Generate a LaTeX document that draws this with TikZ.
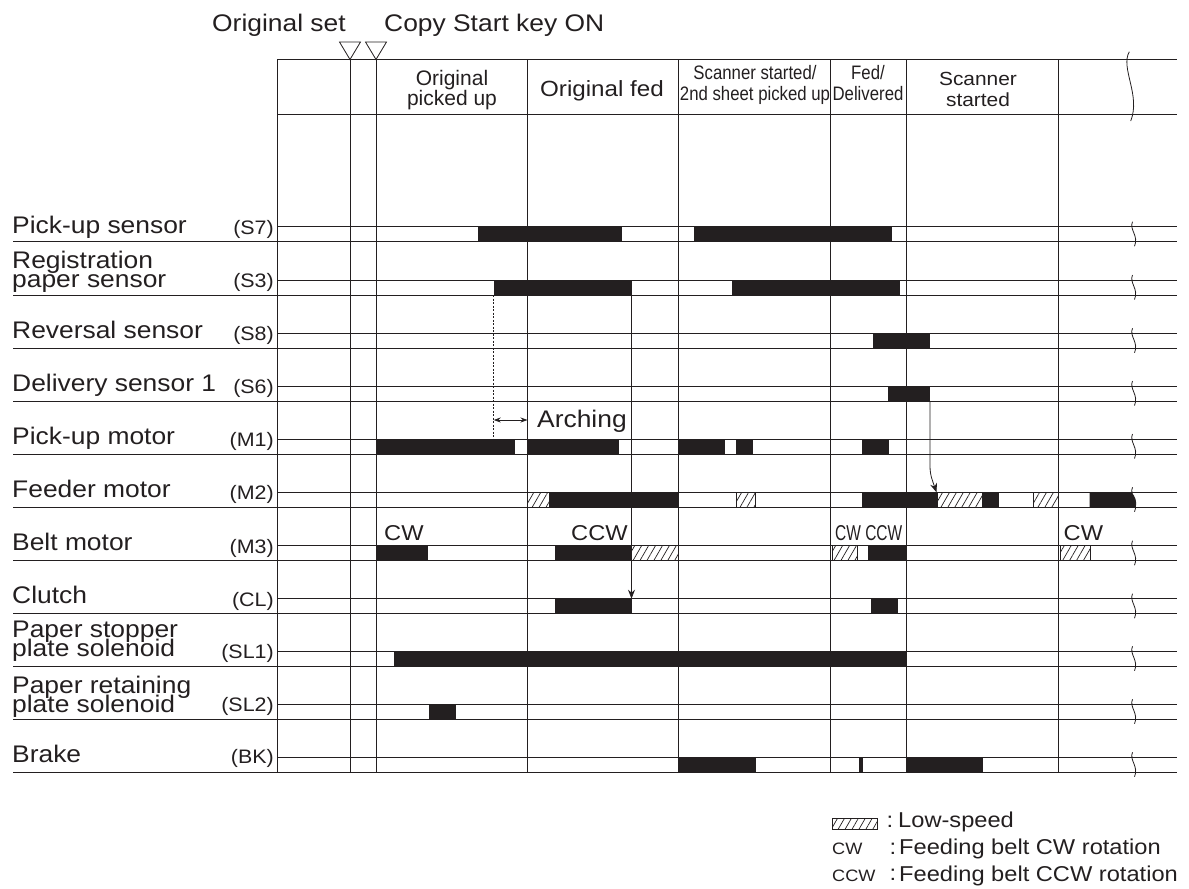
\documentclass[tikz,border=0pt]{standalone}
\usepackage{fontspec}
\setmainfont{Liberation Sans}
\newfontfamily\hv[FakeStretch=1.1]{Liberation Sans}
\newfontfamily\hvn{Liberation Sans}
\newfontfamily\hvc[FakeStretch=0.86]{Liberation Sans}
\newfontfamily\hvcc[FakeStretch=0.72]{Liberation Sans}
\usetikzlibrary{arrows.meta,patterns.meta}
\definecolor{ink}{HTML}{231F20}
\tikzset{
  lab/.style={anchor=base west,inner sep=0pt,text=ink,font={\hv\fontsize{24}{24}\selectfont}},
  code/.style={anchor=base east,inner sep=0pt,text=ink,font={\hv\fontsize{19.5}{19.5}\selectfont}},
  hdr/.style={anchor=base,inner sep=0pt,text=ink},
  beltlab/.style={anchor=base west,inner sep=0pt,text=ink,font={\hv\fontsize{21.5}{21.5}\selectfont}},
  leg/.style={anchor=base west,inner sep=0pt,text=ink,font={\hv\fontsize{21.5}{21.5}\selectfont}},
  legs/.style={anchor=base west,inner sep=0pt,text=ink,font={\hv\fontsize{16.5}{16.5}\selectfont}},
  bar/.style={fill=ink},
  slow/.style={draw=ink,line width=0.6pt,pattern={Lines[angle=60,distance=6pt,line width=0.7pt]},pattern color=ink},
  gridline/.style={draw=ink,line width=1pt},
  squig/.style={draw=ink,line width=0.8pt},
  sigarrow/.style={draw=ink,line width=0.8pt,-{Stealth[length=9pt,width=7pt]}},
}
\begin{document}
\begin{tikzpicture}[x=1pt,y=-1pt]
\useasboundingbox (0,0) rectangle (1189,889);

% ---------- bars ----------
% S7
\foreach \a/\b in {478/622,694/891.5} \fill[bar] (\a,226.7) rectangle (\b,241.7);
% S3
\foreach \a/\b in {494/631.5,732/899.5} \fill[bar] (\a,280) rectangle (\b,295);
% S8
\fill[bar] (872.5,333.3) rectangle (930,348.3);
% S6
\fill[bar] (887.5,386) rectangle (930,401);
% M1
\foreach \a/\b in {376/514.5,527.5/619,678.5/725,736/752.5,861.5/888.5} \fill[bar] (\a,439) rectangle (\b,454);
% M2
\foreach \a/\b in {549.5/678.5,861.5/937.5,982/998.5} \fill[bar] (\a,492.3) rectangle (\b,507.3);
\foreach \a/\b in {527.5/549.5,736/755.5,937.5/982,1033.5/1058} \path[slow] (\a,492.3) rectangle (\b,507.3);
\fill[bar] (1089.5,492.3) -- (1131.5,492.3) .. controls (1135,496) and (1137.5,502) .. (1135.5,507.3) -- (1089.5,507.3) -- cycle;
% M3
\foreach \a/\b in {376/428,555/631.5,868/906} \fill[bar] (\a,545.7) rectangle (\b,560.7);
\foreach \a/\b in {631.5/678,832/857.5,1060/1090.5} \path[slow] (\a,545.7) rectangle (\b,560.7);
% CL
\foreach \a/\b in {555/631.5,871/898} \fill[bar] (\a,598.7) rectangle (\b,613.7);
% SL1
\fill[bar] (394,651.3) rectangle (906.5,666.3);
% SL2
\fill[bar] (428.5,704.3) rectangle (456,719.3);
% BK
\foreach \a/\b in {678.5/755.5,858.5/863,906/983} \fill[bar] (\a,757.3) rectangle (\b,772.3);

% ---------- grid ----------
\draw[gridline] (277,59.5) -- (1177,59.5);
\draw[gridline] (277,114.5) -- (1177,114.5);
\foreach \y in {226.7,280,333.3,386,439,492.3,545.7,598.7,651.3,704.3,757.3} {
  \draw[gridline] (277,\y) -- (1177,\y);
  \draw[gridline] (13,{\y+15}) -- (1177,{\y+15});
  \draw[squig] (1132.5,{\y-5}) .. controls (1129,{\y+3}) and (1139,{\y+9}) .. (1134.5,{\y+19.5});
}
\foreach \x in {277,350,376,527.5,678.5,830,906,1058}
  \draw[gridline] (\x,59.5) -- (\x,772.3);
\draw[squig] (1129.3,51.7) .. controls (1120,68) and (1141,95) .. (1130.7,121);

% triangles
\draw[ink,line width=0.8pt] (339.5,42) -- (360.5,42) -- (350,59.5) -- cycle;
\draw[ink,line width=0.8pt] (365.5,42) -- (386.5,42) -- (376,59.5) -- cycle;

% ---------- top texts ----------
\node[lab] (origset) at (212,31) {Original set};
\node[lab] (copyon) at (384,31) {Copy Start key ON};

% ---------- header ----------
\node[hdr,font={\hvn\fontsize{21}{21}\selectfont}] (h1a) at (452,85) {Original};
\node[hdr,font={\hvn\fontsize{21}{21}\selectfont}] (h1b) at (452,105) {picked up};
\node[hdr,font={\hv\fontsize{22}{22}\selectfont}] (h2) at (602,96) {Original fed};
\node[hdr,font={\hvc\fontsize{19.5}{19.5}\selectfont}] (h3a) at (755,79) {Scanner started/};
\node[hdr,font={\hvc\fontsize{19.5}{19.5}\selectfont}] (h3b) at (755,100) {2nd sheet picked up};
\node[hdr,font={\hvc\fontsize{19.5}{19.5}\selectfont}] (h4a) at (868,79) {Fed/};
\node[hdr,font={\hvc\fontsize{19.5}{19.5}\selectfont}] (h4b) at (868,100) {Delivered};
\node[hdr,font={\hv\fontsize{19}{19}\selectfont}] (h5a) at (978,85) {Scanner};
\node[hdr,font={\hv\fontsize{19}{19}\selectfont}] (h5b) at (978,106) {started};

% ---------- row labels ----------
\node[lab] (lS7) at (12,233) {Pick-up sensor};
\node[code] (cS7) at (274,234.5) {(S7)};
\node[lab] (lS3a) at (12,268) {Registration};
\node[lab] (lS3b) at (12,287) {paper sensor};
\node[code] (cS3) at (274,287.5) {(S3)};
\node[lab] (lS8) at (12,338.5) {Reversal sensor};
\node[code] (cS8) at (274,340.8) {(S8)};
\node[lab] (lS6) at (12,391.5) {Delivery sensor 1};
\node[code] (cS6) at (274,393.5) {(S6)};
\node[lab] (lM1) at (12,444.5) {Pick-up motor};
\node[code] (cM1) at (274,446.5) {(M1)};
\node[lab] (lM2) at (12,497.5) {Feeder motor};
\node[code] (cM2) at (274,499.8) {(M2)};
\node[lab] (lM3) at (12,550) {Belt motor};
\node[code] (cM3) at (274,553) {(M3)};
\node[lab] (lCL) at (12,603) {Clutch};
\node[code] (cCL) at (274,606) {(CL)};
\node[lab] (lSL1a) at (12,637) {Paper stopper};
\node[lab] (lSL1b) at (12,656.5) {plate solenoid};
\node[code] (cSL1) at (274,658.5) {(SL1)};
\node[lab] (lSL2a) at (12,693) {Paper retaining};
\node[lab] (lSL2b) at (12,712.5) {plate solenoid};
\node[code] (cSL2) at (274,711.5) {(SL2)};
\node[lab] (lBK) at (12,762) {Brake};
\node[code] (cBK) at (274,763.5) {(BK)};

% ---------- belt motor direction labels ----------
\node[beltlab] (cw1) at (384,540) {CW};
\node[beltlab] (ccw1) at (571,540) {CCW};
\node[beltlab,font={\hvcc\fontsize{21.5}{21.5}\selectfont}] (cwccw) at (835,540) {CW CCW};
\node[beltlab] (cw2) at (1063.5,540) {CW};

% ---------- arrows and arching ----------
\coordinate (s3on) at (493.7,295);
\coordinate (m1line) at (493.7,439);
\draw[ink,line width=0.7pt,dash pattern=on 2pt off 1.5pt] (s3on) -- (m1line);
\coordinate (archL) at (493.7,420);
\coordinate (archR) at (527.5,420);
\draw[ink,line width=0.8pt,{Stealth[length=7pt,width=5pt]}-{Stealth[length=7pt,width=5pt]}] (archL) -- (archR);
\node[lab] (arching) at (537,427.5) {Arching};

\coordinate (s3off) at (631.5,295);
\coordinate (clon) at (631.5,598.7);
\draw[sigarrow] (s3off) -- (clon);

\coordinate (s6off) at (930,401);
\coordinate (m2low) at (936.5,492.3);
\draw[sigarrow] (s6off) -- (930,466) .. controls (930,476) and (933,482) .. (m2low);

% ---------- legend ----------
\path[slow] (832,818) rectangle (877,829);
\node[leg] (lc1) at (886.5,827) {:};
\node[leg] (lt1) at (898,827) {Low-speed};
\node[legs] (lk2) at (832,854) {CW};
\node[leg] (lc2) at (889.5,854) {:};
\node[leg] (lt2) at (899,854) {Feeding belt CW rotation};
\node[legs] (lk3) at (832,881) {CCW};
\node[leg] (lc3) at (889.5,880) {:};
\node[leg] (lt3) at (899,881) {Feeding belt CCW rotation};
\end{tikzpicture}
\end{document}
